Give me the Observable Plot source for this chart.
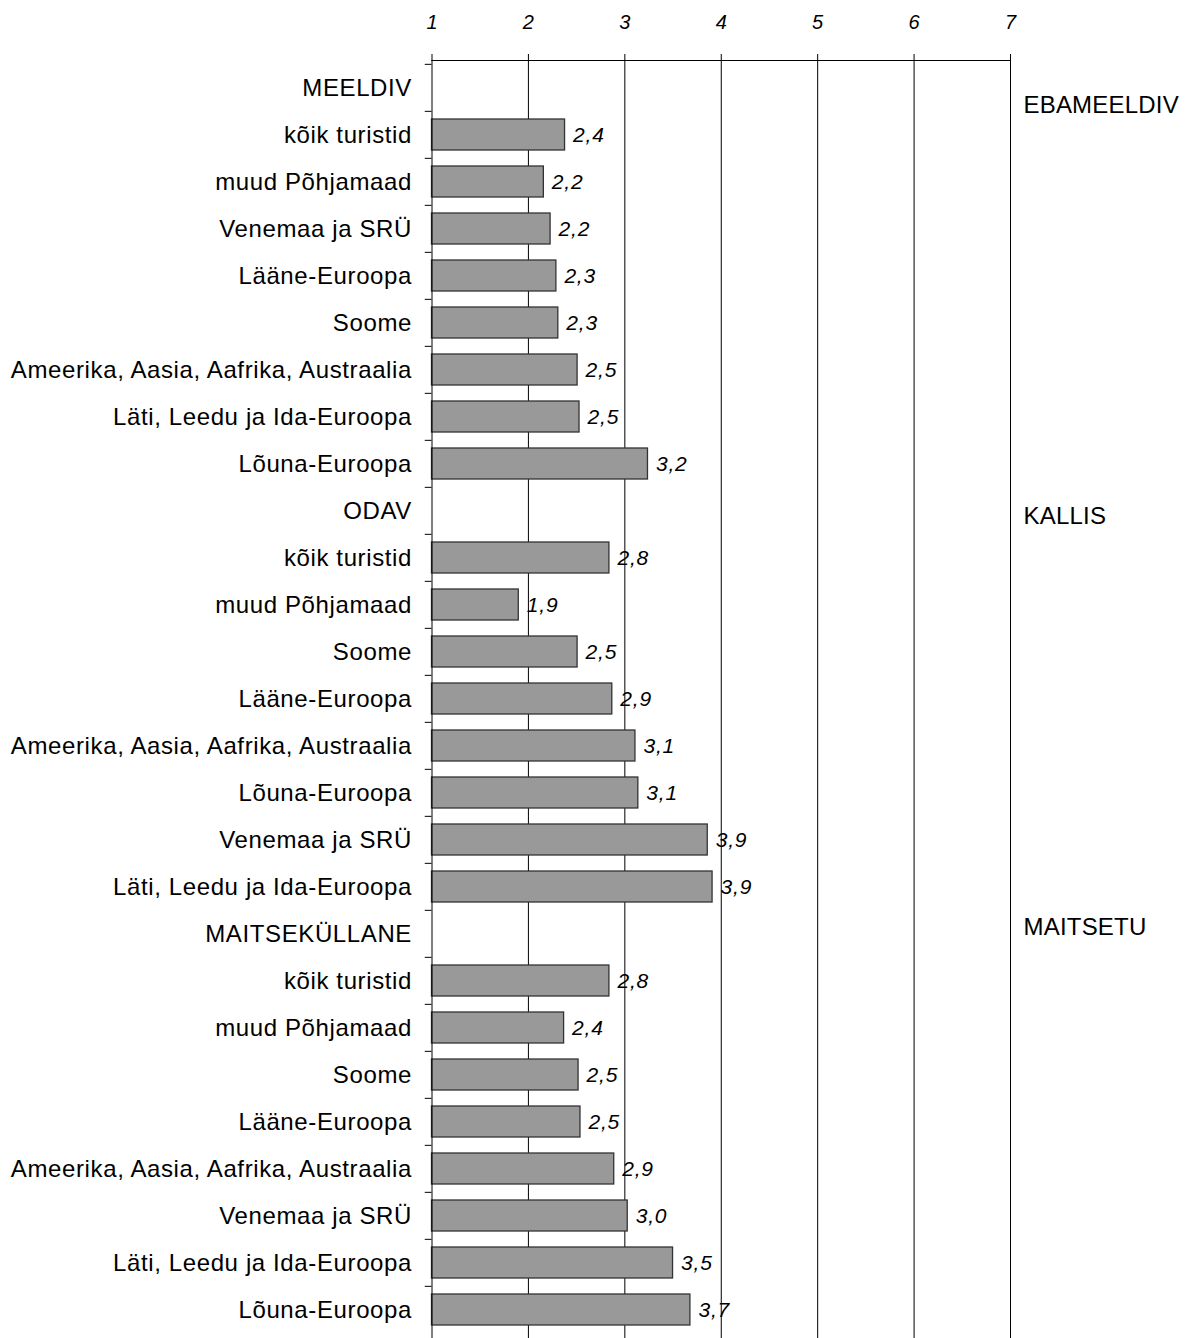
<!DOCTYPE html>
<html>
<head>
<meta charset="utf-8">
<script src="https://cdn.jsdelivr.net/npm/d3@7"></script>
<script src="https://cdn.jsdelivr.net/npm/@observablehq/plot@0.6"></script>
<style>
  html, body { margin: 0; padding: 0; background: #fff; }
</style>
</head>
<body>
<div id="chart"></div>
<script>
// ---- data ----
const groupHeaders = ["MEELDIV", "ODAV", "MAITSEKÜLLANE"];
const groupOpposites = ["EBAMEELDIV", "KALLIS", "MAITSETU"];

const meeldivLabels = ["kõik turistid", "muud Põhjamaad", "Venemaa ja SRÜ", "Lääne-Euroopa", "Soome",
  "Ameerika, Aasia, Aafrika, Austraalia", "Läti, Leedu ja Ida-Euroopa", "Lõuna-Euroopa"];
const meeldivValues = [2.38, 2.16, 2.23, 2.29, 2.31, 2.51, 2.53, 3.24];

const odavLabels = ["kõik turistid", "muud Põhjamaad", "Soome", "Lääne-Euroopa",
  "Ameerika, Aasia, Aafrika, Austraalia", "Lõuna-Euroopa", "Venemaa ja SRÜ", "Läti, Leedu ja Ida-Euroopa"];
const odavValues = [2.84, 1.90, 2.51, 2.87, 3.11, 3.14, 3.86, 3.91];

const maitseLabels = ["kõik turistid", "muud Põhjamaad", "Soome", "Lääne-Euroopa",
  "Ameerika, Aasia, Aafrika, Austraalia", "Venemaa ja SRÜ", "Läti, Leedu ja Ida-Euroopa", "Lõuna-Euroopa"];
const maitseValues = [2.84, 2.37, 2.52, 2.54, 2.89, 3.03, 3.50, 3.68];

const xTicks = [1, 2, 3, 4, 5, 6, 7];

// ---- build rows ----
const groupLabels = [meeldivLabels, odavLabels, maitseLabels];
const groupValues = [meeldivValues, odavValues, maitseValues];
const rows = [];
groupHeaders.forEach((h, gi) => {
  rows.push({key: `g${gi}`, label: h, header: true, opposite: groupOpposites[gi]});
  groupLabels[gi].forEach((lab, i) => {
    rows.push({key: `g${gi}-${i}`, label: lab, header: false, value: groupValues[gi][i]});
  });
});
const headerRows = rows.filter(d => d.header);
const barRows = rows.filter(d => !d.header);

const W = 1190, H = 1338, mTop = 60, mLeft = 431.5, mRight = 180, mBottom = 0;
const step = (H - mTop - mBottom) / rows.length;
const font = "'Liberation Sans', Arial, Helvetica, sans-serif";

const chart = Plot.plot({
  width: W,
  height: H,
  marginTop: mTop,
  marginLeft: mLeft,
  marginRight: mRight,
  marginBottom: mBottom,
  style: {fontFamily: font, background: "#fff", color: "#000", overflow: "visible"},
  x: {domain: [1, 7], axis: null},
  y: {domain: rows.map(d => d.key), paddingInner: 0.33, paddingOuter: 0.165, axis: null},
  marks: [
    Plot.ruleX(xTicks.slice(1), {stroke: "#000", strokeWidth: 1}),
    Plot.barX(barRows, {y: "key", x1: 1, x2: "value", fill: "#999999", stroke: "#333", strokeWidth: 1.3}),
    Plot.ruleX([1], {stroke: "#000", strokeWidth: 1}),
    Plot.frame({anchor: "top", stroke: "#000", strokeWidth: 1}),
    Plot.ruleY(rows, {y: "key", x1: 0.93, x2: 1, dy: -step / 2, stroke: "#000", strokeWidth: 1}),
    Plot.axisX(xTicks, {anchor: "top", tickSize: 7, tickFormat: () => "", label: null, stroke: "#000"}),
    // 0: x tick labels
    Plot.text(xTicks, {x: d => d, frameAnchor: "top", dy: -38, lineAnchor: "middle", text: d => String(d),
      fontSize: 20, fontStyle: "italic", fill: "#000"}),
    // 1: row labels
    Plot.text(rows, {y: "key", x: 1, text: "label", dx: -20, textAnchor: "end", fontSize: 24, fill: "#000"}),
    // 2: value labels
    Plot.text(barRows, {y: "key", x: "value", text: d => d.value.toFixed(1).replace(".", ","),
      dx: 8, textAnchor: "start", fontSize: 21, fontStyle: "italic", fill: "#000"}),
    // 3-5: opposite labels
    Plot.text(headerRows.slice(0, 1), {y: "key", x: 7, text: "opposite", dx: 13, dy: 17, textAnchor: "start",
      fontSize: 24, fill: "#000"}),
    Plot.text(headerRows.slice(1, 2), {y: "key", x: 7, text: "opposite", dx: 13, dy: 5, textAnchor: "start",
      fontSize: 24, fill: "#000"}),
    Plot.text(headerRows.slice(2, 3), {y: "key", x: 7, text: "opposite", dx: 13, dy: -7, textAnchor: "start",
      fontSize: 24, fill: "#000"})
  ]
});
// letter spacing on the text groups (DOM order follows mark order)
const textGroups = chart.querySelectorAll('g[aria-label="text"]');
if (textGroups[1]) textGroups[1].style.letterSpacing = "0.62px";
if (textGroups[2]) textGroups[2].style.letterSpacing = "0.8px";
[3, 4, 5].forEach(i => { if (textGroups[i]) textGroups[i].style.letterSpacing = "0.2px"; });
document.getElementById("chart").appendChild(chart);
</script>
</body>
</html>
